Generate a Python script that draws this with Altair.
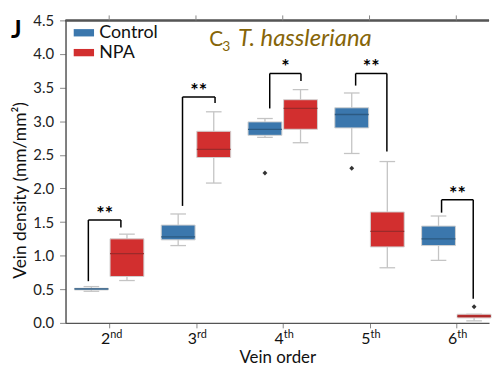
import altair as alt
import pandas as pd

# ---------------- data ----------------
orders = ["2nd", "3rd", "4th", "5th", "6th"]
order_num = ["2", "3", "4", "5", "6"]
order_sup = ["nd", "rd", "th", "th", "th"]
groups = ["Control", "NPA"]

ctrl_low = [0.47, 1.15, 2.76, 2.52, 0.93]
ctrl_q1 = [0.49, 1.235, 2.79, 2.90, 1.15]
ctrl_med = [0.505, 1.28, 2.88, 3.10, 1.25]
ctrl_q3 = [0.515, 1.455, 2.99, 3.20, 1.44]
ctrl_high = [0.54, 1.62, 3.04, 3.42, 1.59]

npa_low = [0.63, 2.08, 2.68, 0.82, 0.03]
npa_q1 = [0.69, 2.46, 2.88, 1.13, 0.074]
npa_med = [1.03, 2.58, 3.19, 1.36, 0.10]
npa_q3 = [1.25, 2.85, 3.32, 1.65, 0.128]
npa_high = [1.32, 3.14, 3.47, 2.40, 0.128]

out_order = ["4th", "5th", "6th"]
out_group = ["Control", "Control", "NPA"]
out_value = [2.23, 2.30, 0.24]

# significance brackets: heights (data units) and horizontal extent around each category
sig_left = [0.62, 1.74, 3.19, 3.53, 1.64]
sig_top = [1.53, 3.36, 3.71, 3.71, 1.83]
sig_right = [1.42, 3.27, 3.60, 2.55, 0.36]
sig_xl = [-0.24, -0.155, -0.15, -0.16, -0.17]
sig_xr = [0.135, 0.22, 0.21, 0.20, 0.195]
sig_label = ["**", "**", "*", "**", "**"]

# ---------------- tables ----------------
rows = []
for i, o in enumerate(orders):
    for g, lo, q1, md, q3, hi in [
        ("Control", ctrl_low[i], ctrl_q1[i], ctrl_med[i], ctrl_q3[i], ctrl_high[i]),
        ("NPA", npa_low[i], npa_q1[i], npa_med[i], npa_q3[i], npa_high[i]),
    ]:
        c = i + (-0.205 if g == "Control" else 0.205)
        rows.append(dict(order=o, group=g, center=c, left=c - 0.195, right=c + 0.195,
                         capl=c - 0.09, capr=c + 0.09, low=lo, q1=q1, med=md, q3=q3, high=hi))
box = pd.DataFrame(rows)

outl = pd.DataFrame(dict(
    x=[orders.index(o) + (-0.205 if g == "Control" else 0.205) for o, g in zip(out_order, out_group)],
    v=out_value))

sig = pd.DataFrame(dict(idx=list(range(len(orders))), lo_l=sig_left, top=sig_top,
                        lo_r=sig_right, lab=sig_label, dl=sig_xl, dr=sig_xr))
sig["bl"] = sig["idx"] + sig["dl"]
sig["br"] = sig["idx"] + sig["dr"]
sig["bc"] = (sig["bl"] + sig["br"]) / 2

xl = pd.DataFrame(dict(idx=list(range(len(orders))), num=order_num, sup=order_sup))

FONT = "Lato"
W, H = 427, 305
xs = alt.Scale(domain=[-0.503, 4.377], nice=False, zero=False)
ys = alt.Scale(domain=[0, 4.5], nice=False)

x_axis = alt.Axis(values=[0, 1, 2, 3, 4], labels=False, title="Vein order")
y_axis = alt.Axis(values=[0, 0.5, 1, 1.5, 2, 2.5, 3, 3.5, 4, 4.5], format=".1f",
                  title="Vein density (mm/mm²)")


def X(field):
    return alt.X(field, scale=xs, axis=x_axis)


def Y(field):
    return alt.Y(field, scale=ys, axis=y_axis)


base = alt.Chart(box)
WH = "#c4c4c4"
whisk = base.mark_rule(color=WH, strokeWidth=1.3).encode(x=X("center:Q"), y=Y("low:Q"), y2="high:Q")
cap_lo = base.mark_rule(color=WH, strokeWidth=1.3).encode(x=X("capl:Q"), x2="capr:Q", y=Y("low:Q"))
cap_hi = base.mark_rule(color=WH, strokeWidth=1.3).encode(x=X("capl:Q"), x2="capr:Q", y=Y("high:Q"))
boxes = base.mark_bar(stroke="#d0d0d0", strokeWidth=1, opacity=1).encode(
    x=X("left:Q"), x2="right:Q", y=Y("q1:Q"), y2="q3:Q",
    color=alt.Color("group:N", scale=alt.Scale(domain=groups, range=["#3b77ad", "#d22f2f"]),
                    legend=alt.Legend(title=None, orient="none", legendX=8, legendY=2,
                                      symbolType="M-1,-0.36H1V0.36H-1Z", symbolSize=420,
                                      symbolStrokeWidth=0, symbolOpacity=1,
                                      labelFont=FONT, labelFontSize=18, labelColor="#111",
                                      labelOffset=5, rowPadding=-5)))
medians = base.mark_rule(strokeWidth=1.3).encode(
    x=X("left:Q"), x2="right:Q", y=Y("med:Q"),
    color=alt.condition(alt.datum.group == "Control", alt.value("#2c5a82"), alt.value("#9c2a2a")))
outs = alt.Chart(outl).mark_point(shape="diamond", filled=True, size=24, color="#333", opacity=1).encode(
    x=X("x:Q"), y=Y("v:Q"))

sbase = alt.Chart(sig)
leg_l = sbase.mark_rule(color="black", strokeWidth=1.5).encode(x=X("bl:Q"), y=Y("lo_l:Q"), y2="top:Q")
leg_r = sbase.mark_rule(color="black", strokeWidth=1.5).encode(x=X("br:Q"), y=Y("lo_r:Q"), y2="top:Q")
bar_t = sbase.mark_rule(color="black", strokeWidth=1.5).encode(x=X("bl:Q"), x2="br:Q", y=Y("top:Q"))
stars = sbase.mark_text(font=FONT, fontSize=20, fontWeight="bold", color="black",
                        baseline="alphabetic", dy=0).encode(x=X("bc:Q"), y=Y("top:Q"), text="lab:N")

xbase = alt.Chart(xl)
xnum = xbase.mark_text(font=FONT, fontSize=16, color="#111", align="right",
                       baseline="alphabetic", dx=1).encode(x=X("idx:Q"), y=alt.value(H + 21), text="num:N")
xsup = xbase.mark_text(font=FONT, fontSize=11, color="#111", align="left",
                       baseline="alphabetic", dx=1).encode(x=X("idx:Q"), y=alt.value(H + 15), text="sup:N")

# top frame line with ticks (mirrors the bottom axis)
top_line = xbase.mark_rule(color="#555555", strokeWidth=1.5).encode(
    x=alt.value(0), x2=alt.value(W), y=alt.value(0))
top_ticks = xbase.mark_rule(color="#888888", strokeWidth=1).encode(
    x=X("idx:Q"), y=alt.value(0), y2=alt.value(-5))

OLIVE = "#866508"
ann = alt.Chart(pd.DataFrame({"a": [0]}))
t_c = ann.mark_text(text="C", font=FONT, fontSize=21, color=OLIVE, align="left",
                    baseline="alphabetic").encode(x=alt.value(145), y=alt.value(26))
t_3 = ann.mark_text(text="3", font=FONT, fontSize=14, color=OLIVE, align="left",
                    baseline="alphabetic").encode(x=alt.value(158), y=alt.value(31))
t_sp = ann.mark_text(text="T. hassleriana", font=FONT, fontSize=24, fontStyle="italic",
                     color=OLIVE, align="left", baseline="alphabetic").encode(
    x=alt.value(174), y=alt.value(26))
t_j = ann.mark_text(text="J", font=FONT, fontSize=25, fontWeight="bold", color="black",
                    align="left", baseline="alphabetic").encode(x=alt.value(-55), y=alt.value(18))

chart = alt.layer(top_line, top_ticks, whisk, cap_lo, cap_hi, boxes, medians, outs,
                  leg_l, leg_r, bar_t, stars, xnum, xsup, t_c, t_3, t_sp, t_j).properties(
    width=W, height=H,
    padding={"left": 3, "top": 4, "right": 0, "bottom": 0},
).configure_axis(
    grid=False, domainColor="#555555", domainWidth=1.5, tickColor="#888888",
    labelFont=FONT, labelFontSize=15, labelColor="#222", titleFont=FONT, titleFontSize=17,
    titleFontWeight="normal", titleColor="#111",
).configure_axisX(tickSize=5, titlePadding=21).configure_axisY(
    tickSize=6, labelPadding=6, titlePadding=3, titleFontSize=17.5, titleY=171
).configure_view(stroke=None)

chart.save("out.html", embed_options={"renderer": "svg", "actions": False})
